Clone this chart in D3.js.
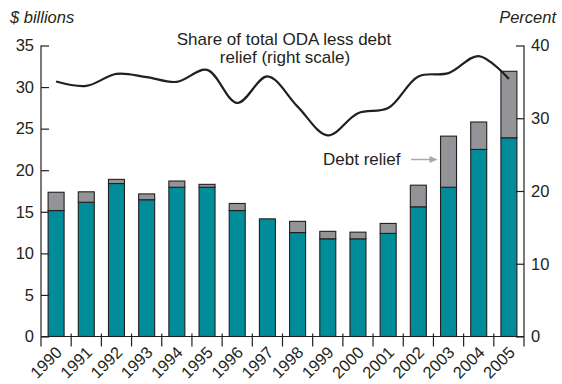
<!DOCTYPE html>
<html>
<head>
<meta charset="utf-8">
<script src="https://cdn.jsdelivr.net/npm/d3@7"></script>
<style>
  body { margin: 0; background: #fff; }
  svg { display: block; font-family: "Liberation Sans", Arial, sans-serif; }
</style>
</head>
<body>
<div id="chart"></div>
<script>
// Données
const years = ['1990','1991','1992','1993','1994','1995','1996','1997',
               '1998','1999','2000','2001','2002','2003','2004','2005'];
// APD hors allègement de dette ($ milliards)
const odaLessDebt = [15.15, 16.15, 18.4, 16.45, 17.95, 17.95, 15.15, 14.15,
                     12.5, 11.75, 11.75, 12.4, 15.6, 17.95, 22.5, 23.9];
// Allègement de dette ($ milliards)
const debtRelief = [2.2, 1.25, 0.5, 0.7, 0.75, 0.35, 0.85, 0,
                    1.35, 0.9, 0.8, 1.2, 2.6, 6.15, 3.3, 8.0];
// Part du total APD hors dette (pour cent, échelle de droite)
const sharePct = [35.05, 34.45, 36.1, 35.65, 35.0, 36.65, 32.1, 35.75,
                  31.6, 27.65, 30.7, 31.4, 35.75, 36.2, 38.55, 35.4];
const leftTicks = [0, 5, 10, 15, 20, 25, 30, 35];
const rightTicks = [0, 10, 20, 30, 40];

const W = 562, H = 384;
const x0 = 41, x1 = 524, yBase = 336.5, yTop = 45.5;
const fs = '16.5px';
const fsTitle = '17px';

const svg = d3.select('#chart').append('svg')
    .attr('width', W)
    .attr('height', H);

// Échelles
const xScale = d3.scaleBand()
    .domain(years)
    .range([x0, x1])
    .paddingInner(0.47)
    .paddingOuter(0.235);

const yLeft = d3.scaleLinear().domain([0, 35]).range([yBase, yTop]);
const yRight = d3.scaleLinear().domain([0, 40]).range([yBase, yTop]);

const data = years.map((y, i) => ({
    year: y, oda: odaLessDebt[i], debt: debtRelief[i], share: sharePct[i]
}));

const ink = '#231f20';

// Barres : part bleue
svg.selectAll('.bar-oda')
    .data(data)
    .join('rect')
    .attr('class', 'bar-oda')
    .attr('x', d => xScale(d.year))
    .attr('width', xScale.bandwidth())
    .attr('y', d => yLeft(d.oda))
    .attr('height', d => yLeft(0) - yLeft(d.oda))
    .attr('fill', '#008c98')
    .attr('stroke', ink)
    .attr('stroke-width', 1.1);

// Barres : allègement de dette (gris)
svg.selectAll('.bar-debt')
    .data(data.filter(d => d.debt > 0))
    .join('rect')
    .attr('class', 'bar-debt')
    .attr('x', d => xScale(d.year))
    .attr('width', xScale.bandwidth())
    .attr('y', d => yLeft(d.oda + d.debt))
    .attr('height', d => yLeft(d.oda) - yLeft(d.oda + d.debt))
    .attr('fill', '#929497')
    .attr('stroke', ink)
    .attr('stroke-width', 1.1);

// Axe gauche
const left = svg.append('g')
    .attr('transform', `translate(${x0},0)`)
    .call(d3.axisRight(yLeft).tickValues(leftTicks).tickSize(8).tickFormat(d3.format('d')));
left.select('.domain').remove();
left.selectAll('line').attr('stroke', ink).attr('stroke-width', 1.2);
left.selectAll('text')
    .attr('x', -7)
    .attr('text-anchor', 'end')
    .style('font-size', fs)
    .style('fill', ink);

// Axe droit
const right = svg.append('g')
    .attr('transform', `translate(${x1},0)`)
    .call(d3.axisLeft(yRight).tickValues(rightTicks).tickSize(8).tickFormat(d3.format('d')));
right.select('.domain').remove();
right.selectAll('line').attr('stroke', ink).attr('stroke-width', 1.2);
right.selectAll('text')
    .attr('x', 7)
    .attr('text-anchor', 'start')
    .style('font-size', fs)
    .style('fill', ink);

// Lignes verticales des axes
[x0, x1].forEach(xx => {
    svg.append('line')
        .attr('x1', xx).attr('x2', xx)
        .attr('y1', yTop).attr('y2', yBase + 10)
        .attr('stroke', ink).attr('stroke-width', 1.2);
});

// Ligne de base
svg.append('line')
    .attr('x1', x0).attr('x2', x1)
    .attr('y1', yBase).attr('y2', yBase)
    .attr('stroke', ink).attr('stroke-width', 1.2);

// Graduations entre les barres
const gap = (xScale.step() - xScale.bandwidth()) / 2;
svg.selectAll('.xtick')
    .data(years.slice(1))
    .join('line')
    .attr('class', 'xtick')
    .attr('x1', d => xScale(d) - gap)
    .attr('x2', d => xScale(d) - gap)
    .attr('y1', yBase - 3)
    .attr('y2', yBase + 10)
    .attr('stroke', ink)
    .attr('stroke-width', 1.2);

// Étiquettes des années (inclinées)
svg.selectAll('.xlabel')
    .data(years)
    .join('text')
    .attr('class', 'xlabel')
    .attr('transform', d => `translate(${xScale(d) + xScale.bandwidth() / 2 + 7},${yBase + 17}) rotate(-45)`)
    .attr('text-anchor', 'end')
    .style('font-size', fs)
    .style('fill', ink)
    .text(d => d);

// Courbe de la part (échelle de droite)
const line = d3.line()
    .x(d => xScale(d.year) + xScale.bandwidth() / 2)
    .y(d => yRight(d.share))
    .curve(d3.curveCatmullRom.alpha(0.5));

svg.append('path')
    .datum(data)
    .attr('d', line)
    .attr('fill', 'none')
    .attr('stroke', ink)
    .attr('stroke-width', 2.2);

// Titres des axes
svg.append('text')
    .attr('x', 10).attr('y', 23)
    .style('font-size', fs)
    .style('font-style', 'italic')
    .style('fill', ink)
    .text('$ billions');

svg.append('text')
    .attr('x', 556).attr('y', 23)
    .attr('text-anchor', 'end')
    .style('font-size', fs)
    .style('font-style', 'italic')
    .style('fill', ink)
    .text('Percent');

// Libellé de la courbe
svg.append('text')
    .attr('x', 284).attr('y', 45)
    .attr('text-anchor', 'middle')
    .style('font-size', fsTitle)
    .style('fill', ink)
    .text('Share of total ODA less debt');

svg.append('text')
    .attr('x', 285).attr('y', 63)
    .attr('text-anchor', 'middle')
    .style('font-size', fsTitle)
    .style('fill', ink)
    .text('relief (right scale)');

// Annotation « Debt relief » avec flèche
const arrowEnd = xScale('2003') - 3;
const arrowY = 159.5;
svg.append('text')
    .attr('x', 323).attr('y', 165)
    .style('font-size', fsTitle)
    .style('fill', ink)
    .text('Debt relief');

svg.append('line')
    .attr('x1', 411).attr('x2', arrowEnd - 6)
    .attr('y1', arrowY).attr('y2', arrowY)
    .attr('stroke', '#a7a9ac')
    .attr('stroke-width', 1.5);

svg.append('path')
    .attr('d', `M${arrowEnd},${arrowY} L${arrowEnd - 8},${arrowY - 3.5} L${arrowEnd - 8},${arrowY + 3.5} Z`)
    .attr('fill', '#a7a9ac');
</script>
</body>
</html>
